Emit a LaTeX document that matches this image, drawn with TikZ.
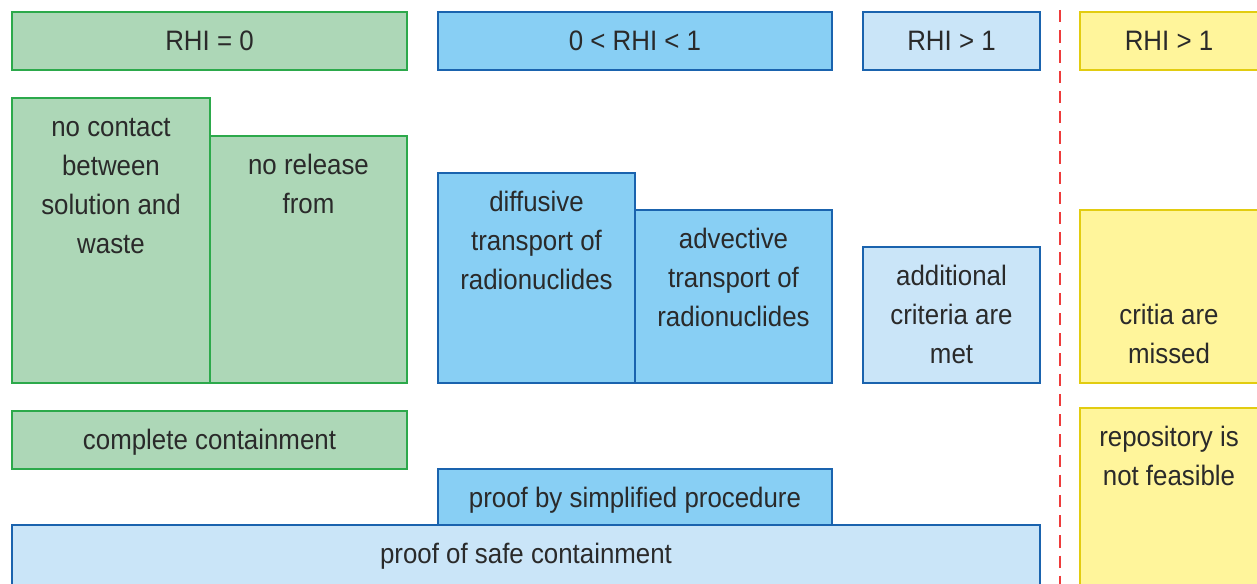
\documentclass[tikz,border=0pt]{standalone}
\usepackage{fontspec}
\setmainfont{Liberation Sans}[FakeStretch=0.92]
\usepackage{xcolor}
\definecolor{rhigreen}{HTML}{2CA94B}
\definecolor{rhigreenfill}{HTML}{ADD7B7}
\definecolor{rhiblue}{HTML}{1A63AE}
\definecolor{rhibluefill}{HTML}{88CFF4}
\definecolor{rhilight}{HTML}{CAE5F8}
\definecolor{rhiyellow}{HTML}{E2CC10}
\definecolor{rhiyellowfill}{HTML}{FFF59B}
\definecolor{rhired}{HTML}{EE3B3B}
\definecolor{txtgrey}{HTML}{2A2A2A}
\usepackage{tikz}
\usetikzlibrary{fit}
\newcommand{\rhifont}{\fontsize{16}{22.1}\selectfont}
\tikzset{
  box/.style  ={rectangle, inner sep=0pt, outer sep=0pt, line width=1.5pt},
  gbox/.style ={box, draw=rhigreen, fill=rhigreenfill},
  bbox/.style ={box, draw=rhiblue, fill=rhibluefill},
  lbox/.style ={box, draw=rhiblue, fill=rhilight},
  ybox/.style ={box, draw=rhiyellow, fill=rhiyellowfill},
  lbl/.style  ={anchor=base, align=center, inner sep=0pt, font=\rhifont, text=txtgrey},
  divider/.style={draw=rhired, line width=1.2pt, dash pattern=on 7pt off 4.5pt},
}

\begin{document}
\begin{tikzpicture}[x=0.02cm, y=-0.02cm]
  \useasboundingbox (0,0) rectangle (1257,584);
  \clip (0,0) rectangle (1257,584);
  % headers
  \node[gbox, fit={(12,12) (407,70)}] (h0) {};
  \node[bbox, fit={(438,12) (832,70)}] (h1) {};
  \node[lbox, fit={(863,12) (1040,70)}] (h2) {};
  \node[ybox, fit={(1080,12) (1258,70)}] (h3) {};
  \node[lbl] (h0txt) at ([yshift=-22.1pt]h0.north) {RHI = 0};
  \node[lbl] (h1txt) at ([yshift=-22.1pt]h1.north) {0 < RHI < 1};
  \node[lbl] (h2txt) at ([yshift=-22.1pt]h2.north) {RHI > 1};
  \node[lbl] (h3txt) at ([yshift=-22.1pt]h3.north) {RHI > 1};
  % criteria (base = last line)
  \node[gbox, fit={(12,98) (210,383)}] (contact) {};
  \node[gbox, fit={(210,136) (407,383)}] (release) {};
  \node[bbox, fit={(438,173) (635,383)}] (diffusive) {};
  \node[bbox, fit={(635,210) (832,383)}] (advective) {};
  \node[lbox, fit={(863,247) (1040,383)}] (additional) {};
  \node[ybox, fit={(1080,210) (1258,383)}] (missed) {};
  \node[lbl] (contacttxt) at ([yshift=-88.4pt]contact.north) {no contact\\between\\solution and\\waste};
  \node[lbl] (releasetxt) at ([yshift=-44.2pt]release.north) {no release\\from};
  \node[lbl] (diffusivetxt) at ([yshift=-66.3pt]diffusive.north) {diffusive\\transport of\\radionuclides};
  \node[lbl] (advectivetxt) at ([yshift=-66.3pt]advective.north) {advective\\transport of\\radionuclides};
  \node[lbl] (additionaltxt) at ([yshift=-66.3pt]additional.north) {additional\\criteria are\\met};
  \node[lbl] (missedtxt) at ([yshift=-87.3pt]missed.north) {critia are\\missed};
  % results
  \node[gbox, fit={(12,411) (407,469)}] (complete) {};
  \node[bbox, fit={(438,469) (832,525)}] (simplified) {};
  \node[lbox, fit={(12,525) (1040,610)}] (safe) {};
  \node[ybox, fit={(1080,408) (1258,610)}] (feasible) {};
  \node[lbl] (completetxt) at ([yshift=-22.1pt]complete.north) {complete containment};
  \node[lbl] (simplifiedtxt) at ([yshift=-22.1pt]simplified.north) {proof by simplified procedure};
  \node[lbl] (safetxt) at ([yshift=-22.1pt]safe.north) {proof of safe containment};
  \node[lbl] (feasibletxt) at ([yshift=-44.2pt]feasible.north) {repository is\\not feasible};
  % limit
  \coordinate (limtop) at (1060,10);
  \coordinate (limbot) at (1060,610);
  \draw[divider] (limtop) -- (limbot);
\end{tikzpicture}
\end{document}
